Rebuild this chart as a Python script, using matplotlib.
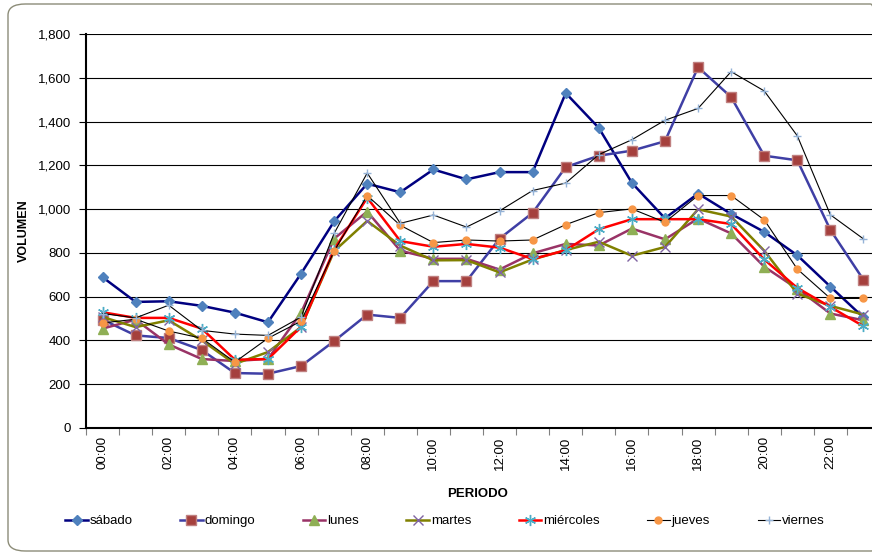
import matplotlib
matplotlib.use("Agg")
import matplotlib.pyplot as plt
from matplotlib.patches import FancyBboxPatch

plt.rcParams['font.family'] = ['Liberation Sans', 'DejaVu Sans']

# --- data ---
horas = ["%02d:00" % h for h in range(24)]

sabado = [689, 576, 579, 558, 527, 483, 705, 944, 1116, 1077, 1181, 1136,
          1169, 1169, 1530, 1371, 1120, 958, 1071, 978, 896, 789, 646, 505]
domingo = [495, 423, 411, 356, 251, 248, 283, 397, 518, 503, 671, 671,
           865, 983, 1192, 1244, 1267, 1310, 1648, 1512, 1244, 1223, 905, 677]
lunes = [454, 495, 382, 315, 306, 316, 526, 865, 989, 810, 773, 773,
         724, 798, 841, 834, 911, 862, 957, 889, 737, 636, 523, 492]
martes = [507, 461, 492, 400, 293, 347, 461, 808, 946, 833, 766, 767,
          711, 770, 813, 851, 787, 827, 999, 966, 810, 614, 558, 518]
miercoles = [529, 503, 503, 454, 312, 315, 462, 815, 1052, 854, 828, 841,
             824, 772, 812, 908, 954, 954, 954, 932, 770, 640, 553, 465]
jueves = [480, 497, 443, 410, 301, 410, 488, 808, 1062, 926, 847, 859,
          854, 859, 929, 984, 1001, 940, 1062, 1062, 951, 726, 592, 592]
viernes = [523, 503, 561, 446, 429, 423, 507, 889, 1165, 935, 973, 918,
           992, 1085, 1119, 1249, 1317, 1406, 1460, 1628, 1540, 1335, 974, 864]

series = [
    ("sábado", sabado, dict(color="#000080", lw=1.8, marker="D", ms=5,
                            mfc="#4F81BD", mec="#4F81BD")),
    ("domingo", domingo, dict(color="#3F3FA5", lw=1.8, marker="s", ms=7,
                              mfc="#A5403D", mec="#C08080")),
    ("lunes", lunes, dict(color="#993366", lw=1.8, marker="^", ms=7,
                          mfc="#8FAF55", mec="#8FAF55")),
    ("martes", martes, dict(color="#808000", lw=1.8, marker="x", ms=7,
                            mfc="#8064A2", mec="#8064A2", mew=1.0)),
    ("miércoles", miercoles, dict(color="#FF0000", lw=1.8, marker=(6, 2, 0), ms=8,
                                  mfc="#4BACC6", mec="#4BACC6", mew=1.0)),
    ("jueves", jueves, dict(color="#000000", lw=0.8, marker="o", ms=5,
                            mfc="#F79646", mec="#F79646")),
    ("viernes", viernes, dict(color="#000000", lw=0.8, marker="+", ms=6,
                              mfc="#95B3D7", mec="#95B3D7", mew=1.0)),
]

# --- figure ---
fig = plt.figure(figsize=(8.72, 5.57), dpi=100)
W, H = 872, 557

# chart border (rounded, right side clipped like the original)
border = FancyBboxPatch((8 / W, 6 / H), 880 / W, (553 - 6) / H,
                        boxstyle="round,pad=0,rounding_size=0.02",
                        transform=fig.transFigure, fill=False,
                        ec="#8C8C78", lw=1.0)
fig.patches.append(border)

left, right, top, bottom = 86, 880, 34, 428
ax = fig.add_axes([left / W, 1 - bottom / H, (right - left) / W, (bottom - top) / H])

x = list(range(24))
for name, vals, st in series:
    ax.plot(x, vals, label=name, **st)

ax.set_xlim(-0.5, 23.5)
ax.set_ylim(0, 1800)
ax.set_yticks(range(0, 1801, 200))
ax.set_yticklabels(["{:,}".format(v) for v in range(0, 1801, 200)], fontsize=9.5)
ax.yaxis.grid(True, color="#000000", lw=0.8)
ax.set_axisbelow(True)

ax.set_xticks([i - 0.5 for i in range(24)])
ax.set_xticklabels([])
ax.set_xticks(range(0, 24, 2), minor=True)
ax.set_xticklabels(horas[::2], minor=True, rotation=90, fontsize=9.5)
ax.tick_params(axis="x", which="minor", length=0, pad=6)
ax.tick_params(axis="x", which="major", length=5, direction="out", color="#808080")
ax.tick_params(axis="y", length=5, direction="out", pad=6)

for s in ["top", "right"]:
    ax.spines[s].set_visible(False)
ax.spines["left"].set_linewidth(1.5)
ax.spines["bottom"].set_linewidth(1.5)

fig.text(24 / W, 1 - 231 / H, "VOLUMEN", fontsize=9, fontweight="bold",
         rotation=90, ha="center", va="center")
fig.text(478 / W, 1 - 494 / H, "PERIODO", fontsize=9.5, fontweight="bold",
         ha="center", va="center")

fig.legend(loc="center", bbox_to_anchor=(445 / W, 1 - 521 / H), ncol=7,
           frameon=False, fontsize=9.5, handlelength=1.7, handletextpad=0.15,
           columnspacing=3.6, numpoints=1)

fig.savefig("out.png", dpi=100)
